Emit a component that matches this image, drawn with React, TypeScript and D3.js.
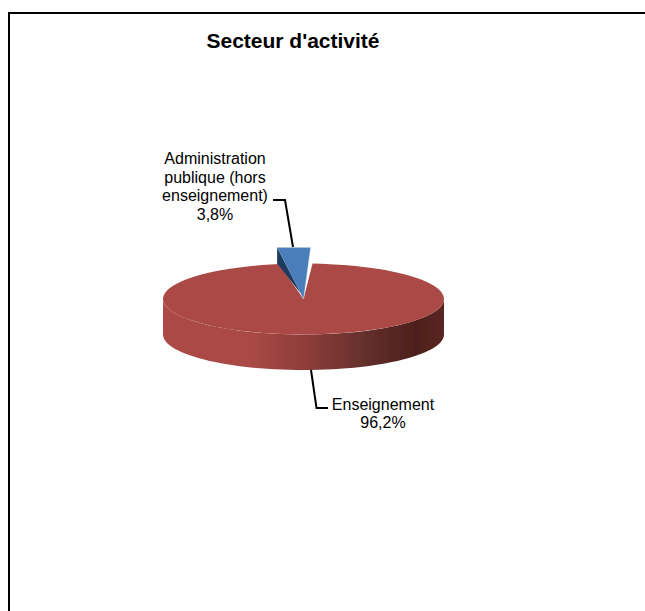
import React from "react";
import * as d3 from "d3";

const title = "Secteur d'activité";
const categories = ["Administration publique (hors enseignement)", "Enseignement"];
const shares = [3.8, 96.2];
const shareLabels = ["3,8%", "96,2%"];
const adminLabelLines = ["Administration", "publique (hors", "enseignement)"];

const W = 645, H = 611;
const cx = 303.5, cy = 299, rx = 140.5, ry = 35.5, depth = 35.5, lift = 16, shiftX = -2;
const startAngle = (-10 * Math.PI) / 180;

const slices = d3.pie<number>().sort(null).startAngle(startAngle).endAngle(startAngle + 2 * Math.PI)(shares);
const project = (a: number, dy = 0, dx = 0): [number, number] => [cx + rx * Math.sin(a) + dx, cy - ry * Math.cos(a) + dy];
const toPath = d3.line<[number, number]>();
const arcPoints = (a0: number, a1: number, dy = 0) =>
  d3.range(0, 61).map((i) => project(a0 + ((a1 - a0) * i) / 60, dy));

const topArc = d3.arc<any>().innerRadius(0).outerRadius(rx);
const blue = slices[0];
const red = slices[1];

// Visible wall: lower half of the rim, extruded downward.
const wallTop = arcPoints(Math.PI / 2, (3 * Math.PI) / 2);
const wallBottom = arcPoints((3 * Math.PI) / 2, Math.PI / 2, depth);
const wallPath = toPath([...wallTop, ...wallBottom]) + "Z";

// Exploded slice
const blueLeft = project(blue.startAngle, -lift, shiftX);
const blueRight = project(blue.endAngle, -lift, shiftX);
const tip: [number, number] = [cx, cy];
const flatTop = Math.min(blueLeft[1], blueRight[1]);
const blueTop = toPath([[blueLeft[0], flatTop], [blueRight[0], flatTop], tip]) + "Z";
const blueSide = toPath([
  [blueLeft[0], flatTop],
  [blueLeft[0], flatTop + lift],
  [tip[0] - 3, tip[1] - 6],
]) + "Z";

const sans = "'Liberation Sans', Arial, sans-serif";

export default function App() {
  return (
    <svg width={W} height={H} viewBox={`0 0 ${W} ${H}`} style={{ position: "fixed", left: 0, top: 0, background: "#fff" }}>
      <defs>
        <linearGradient id="wall" gradientUnits="userSpaceOnUse" x1={cx - rx} x2={cx + rx} y1="0" y2="0">
          <stop offset="0" stopColor="#ab4a47" />
          <stop offset="0.3" stopColor="#ab4a47" />
          <stop offset="0.5" stopColor="#8f3d3a" />
          <stop offset="0.72" stopColor="#64302c" />
          <stop offset="0.9" stopColor="#4c1f1c" />
          <stop offset="1" stopColor="#5b2622" />
        </linearGradient>
        <filter id="soft" x="-5%" y="-5%" width="110%" height="110%">
          <feGaussianBlur stdDeviation="0.5" />
        </filter>
      </defs>
      <path d={`M9 ${H}V13H${W}`} fill="none" stroke="#000" strokeWidth={2} />
      <text x={293} y={48} textAnchor="middle" fontFamily={sans} fontWeight="bold" fontSize={21}>{title}</text>

      <g filter="url(#soft)">
        <path d={wallPath} fill="url(#wall)" />
        <g transform={`translate(${cx},${cy}) scale(1,${ry / rx})`}>
          <path d={topArc(red) ?? ""} fill="#ab4a47" aria-label={categories[1]} />
        </g>
        <path d={blueTop} fill="#4a7ebb" stroke="#c4ccd6" strokeWidth={0.4} aria-label={categories[0]} />
        <path d={blueSide} fill="#1f3a5f" />
      </g>

      <path d="M273 200H285L293 247" fill="none" stroke="#000" strokeWidth={2} />
      <path d="M311 370L316.500 408H328" fill="none" stroke="#000" strokeWidth={2} />

      <g fontFamily={sans} fontSize={16} textAnchor="middle" fill="#000">
        {adminLabelLines.map((l, i) => (
          <text key={l} x={215} y={164 + i * 18.5}>{l}</text>
        ))}
        <text x={215} y={220}>{shareLabels[0]}</text>
        <text x={383} y={410}>{categories[1]}</text>
        <text x={383} y={428}>{shareLabels[1]}</text>
      </g>
    </svg>
  );
}
